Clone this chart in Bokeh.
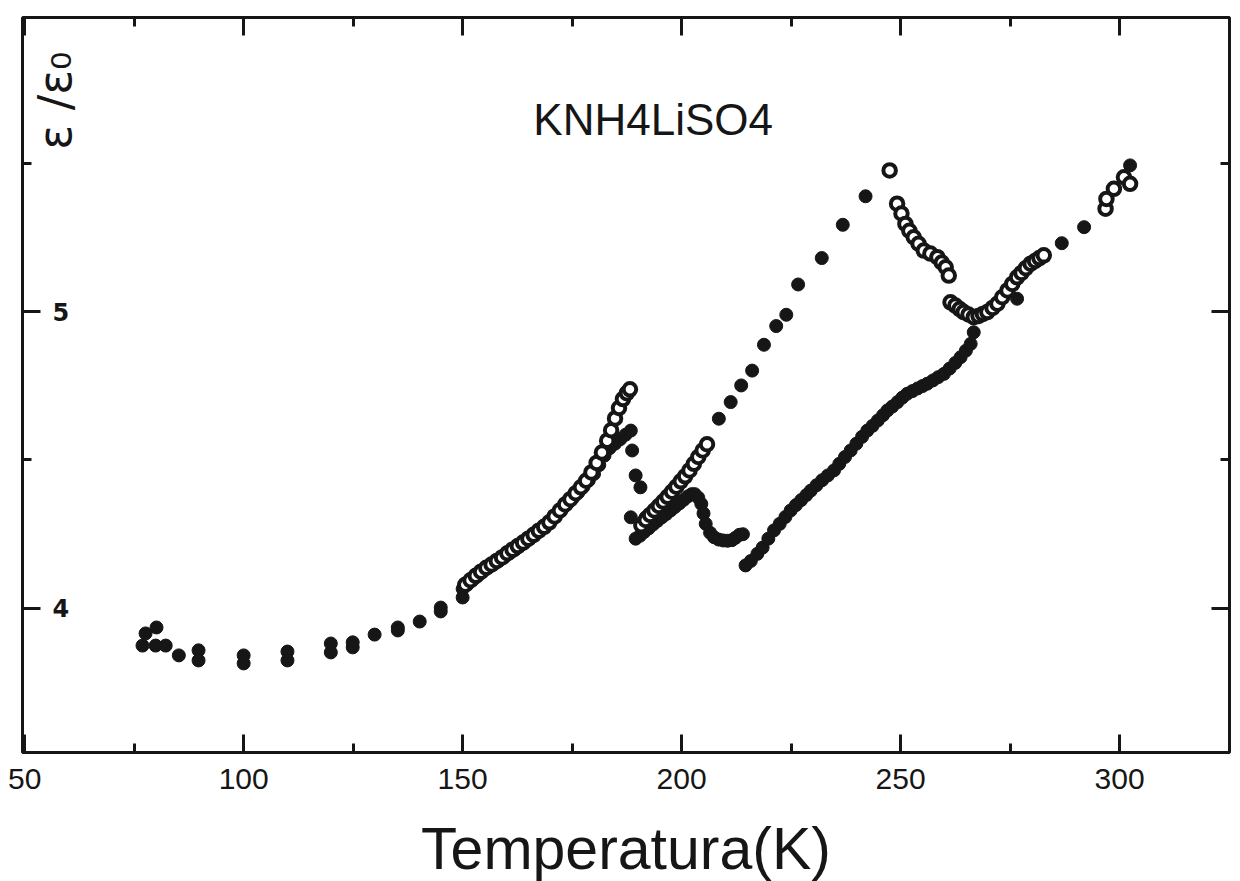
from bokeh.plotting import figure
from bokeh.models import FixedTicker, LinearAxis, Label, Range1d
from bokeh.core.properties import value
from bokeh.embed import file_html
from bokeh.resources import INLINE

# ---------------- data ----------------
# filled circles
solid_T = [76.9, 77.6, 79.9, 80.1, 82.2, 85.2, 89.7, 89.7, 100.0, 100.0, 110.0, 110.0,
           119.9, 119.9, 124.9, 124.9, 129.9, 135.2, 135.2, 140.2, 145.0, 145.0, 150.0,
           # lower branch 150-188
           150.0, 151.2, 152.4, 153.6, 154.8, 156.0, 157.2, 158.4, 159.6, 160.8, 162.0,
           163.2, 164.4, 165.6, 166.8, 168.0, 169.2, 170.4, 171.6, 172.8, 174.0, 175.2,
           176.4, 177.6, 178.8, 180.0, 181.2, 182.4, 183.6, 184.8, 186.0, 187.2, 188.4,
           # drop after 188
           188.7, 189.5, 190.6, 188.4, 191.8,
           # branch 189-214
           189.5, 190.5, 191.5, 192.5, 193.5, 194.5, 195.5, 196.5, 197.5, 198.5, 199.5,
           200.5, 201.5, 202.3, 203.0, 203.8, 204.5, 205.0, 205.5, 206.5, 207.4, 208.5,
           209.5, 210.5, 211.5, 212.3, 213.2, 214.0,
           # sparse rising dots 208-248
           208.5, 211.2, 213.6, 216.1, 218.8, 221.6, 223.9, 226.6, 232.0, 236.8, 242.0,
           # lower branch 215-267
           214.6, 215.8, 217.3, 218.5, 219.8, 221.1, 222.4, 223.7, 224.9, 226.1, 227.3,
           228.5, 229.5, 230.8, 232.1, 233.4, 234.8, 236.0, 237.3, 238.6, 239.9, 241.2,
           242.4, 243.6, 244.8, 246.0, 247.0, 248.1, 249.3, 250.4, 251.5, 252.7, 253.9,
           255.0, 256.1, 257.4, 258.6, 259.9, 261.2, 262.5, 263.7, 264.9, 266.0, 266.7,
           # high-T sparse dots
           276.6, 286.8, 291.9, 302.4]
solid_eps = [3.875, 3.916, 3.875, 3.936, 3.875, 3.842, 3.859, 3.825, 3.842, 3.815, 3.855, 3.825,
             3.882, 3.852, 3.886, 3.869, 3.912, 3.936, 3.926, 3.956, 4.003, 3.990, 4.037,
             4.066, 4.082, 4.097, 4.112, 4.127, 4.139, 4.150, 4.162, 4.174, 4.186, 4.198,
             4.212, 4.225, 4.238, 4.252, 4.266, 4.283, 4.300, 4.318, 4.336, 4.354, 4.372,
             4.390, 4.410, 4.431, 4.453, 4.483, 4.515, 4.540, 4.555, 4.570, 4.585, 4.599,
             4.532, 4.448, 4.408, 4.307, 4.307,
             4.235, 4.245, 4.258, 4.270, 4.283, 4.295, 4.307, 4.318, 4.330, 4.342, 4.354,
             4.366, 4.378, 4.385, 4.385, 4.373, 4.352, 4.320, 4.285, 4.255, 4.240, 4.232,
             4.229, 4.228, 4.230, 4.238, 4.248, 4.250,
             4.639, 4.695, 4.751, 4.801, 4.888, 4.951, 4.989, 5.091, 5.180, 5.292, 5.388,
             4.145, 4.160, 4.184, 4.205, 4.235, 4.263, 4.285, 4.308, 4.330, 4.348, 4.365,
             4.382, 4.397, 4.415, 4.432, 4.448, 4.465, 4.487, 4.510, 4.532, 4.555, 4.578,
             4.599, 4.615, 4.633, 4.651, 4.667, 4.680, 4.695, 4.710, 4.723, 4.732, 4.741,
             4.749, 4.757, 4.768, 4.779, 4.790, 4.808, 4.827, 4.846, 4.868, 4.891, 4.930,
             5.043, 5.230, 5.284, 5.492]

# open circles
open_T = [150.6, 151.8, 153.0, 154.2, 155.4, 156.6, 157.8, 159.0, 160.2, 161.4, 162.6,
          163.8, 165.0, 166.2, 167.4, 168.6, 169.8, 171.0, 172.2, 173.4, 174.6, 175.8,
          177.0, 178.2, 179.4, 180.6, 181.8, 183.0, 183.9, 184.8, 185.7, 186.6, 187.5, 188.2,
          190.8, 191.8, 192.8, 193.8, 194.8, 195.8, 196.8, 197.8, 198.8, 199.8, 200.8,
          201.8, 202.8, 203.8, 204.8, 205.8,
          247.5, 249.2, 250.2, 251.1, 252.0, 253.0, 254.1, 255.3, 256.8, 258.4, 259.4,
          260.3, 261.0,
          261.4, 262.5, 263.5, 264.4, 265.5, 266.7, 267.8, 268.8, 269.8, 271.0, 272.1,
          273.2, 274.4, 275.5, 276.6, 277.6, 278.6, 279.7, 280.7, 281.7, 282.7,
          296.8, 297.0, 298.7, 301.0, 302.4]
open_eps = [4.080, 4.095, 4.110, 4.124, 4.137, 4.148, 4.160, 4.172, 4.186, 4.198, 4.210,
            4.222, 4.235, 4.248, 4.262, 4.275, 4.290, 4.310, 4.330, 4.350, 4.368, 4.388,
            4.408, 4.430, 4.458, 4.490, 4.525, 4.565, 4.600, 4.640, 4.675, 4.705, 4.725, 4.738,
            4.280, 4.298, 4.315, 4.330, 4.345, 4.360, 4.376, 4.393, 4.410, 4.428, 4.445,
            4.465, 4.487, 4.510, 4.532, 4.553,
            5.475, 5.363, 5.330, 5.295, 5.272, 5.250, 5.228, 5.205, 5.195, 5.183, 5.165,
            5.149, 5.121,
            5.031, 5.020, 5.008, 4.998, 4.990, 4.981, 4.985, 4.992, 4.998, 5.012, 5.026,
            5.048, 5.071, 5.093, 5.115, 5.130, 5.146, 5.161, 5.170, 5.180, 5.189,
            5.346, 5.379, 5.413, 5.452, 5.430]

x_ticks = [50, 100, 150, 200, 250, 300]
x_minor = [75, 125, 175, 225, 275]
y_ticks = [4, 5]
y_minor = [4.5, 5.5]
y_tick_labels = ["4", "5"]

title_text = "KNH4LiSO4"
x_title = "Temperatura(K)"
y_title = "ε /ε₀"

# ---------------- figure ----------------
INK = "#161616"
p = figure(frame_width=1207, frame_height=735,
           x_range=Range1d(49.5, 325.1), y_range=Range1d(3.515, 5.99),
           output_backend="svg", toolbar_location=None,
           min_border_left=22, min_border_right=11, min_border_top=17, min_border_bottom=129,
           background_fill_color="white", border_fill_color="white")
p.grid.grid_line_color = None
p.outline_line_color = INK
p.outline_line_width = 3

xtk = FixedTicker(ticks=x_ticks, minor_ticks=x_minor)
ytk = FixedTicker(ticks=y_ticks, minor_ticks=y_minor)

def style_axis(ax, show_labels=False):
    ax.axis_line_color = None
    ax.major_tick_in = 18
    ax.major_tick_out = 0
    ax.minor_tick_in = 9
    ax.minor_tick_out = 0
    ax.major_tick_line_width = 3
    ax.minor_tick_line_width = 3
    ax.major_tick_line_color = INK
    ax.minor_tick_line_color = INK
    if not show_labels:
        ax.major_label_text_color = None
        ax.major_label_text_font_size = "1px"
        ax.major_label_standoff = 0

bx = p.xaxis[0]
bx.ticker = xtk
style_axis(bx, True)
bx.major_label_text_font = "Liberation Sans"
bx.major_label_text_font_size = "30px"
bx.major_label_text_color = INK
bx.major_label_standoff = 16
bx.axis_label = x_title
bx.axis_label_text_font = "Liberation Sans"
bx.axis_label_text_font_size = "59px"
bx.axis_label_text_font_style = "normal"
bx.axis_label_text_color = INK
bx.axis_label_standoff = 24

ly = p.yaxis[0]
ly.ticker = ytk
style_axis(ly)

top = LinearAxis(ticker=xtk)
style_axis(top)
p.add_layout(top, "above")
right = LinearAxis(ticker=ytk)
style_axis(right)
p.add_layout(right, "right")

# y tick labels drawn inside the frame
p.text(x=[49.5] * len(y_ticks), y=y_ticks, text=y_tick_labels, x_offset=30,
       text_align="left", text_baseline="middle", text_font=value("DejaVu Sans"),
       text_font_style="bold", text_font_size="24px", text_color=INK)

# data
p.scatter(solid_T, solid_eps, size=13, marker="circle", fill_color=INK, line_color=INK)
p.scatter(open_T, open_eps, size=12.5, marker="circle", fill_color="white",
          line_color=INK, line_width=4)

# title and y label
p.add_layout(Label(x=193.5, y=5.645, text=title_text, text_align="center",
                   text_baseline="middle", text_font="Liberation Sans",
                   text_font_size="44px", text_color=INK))
p.add_layout(Label(x=57.0, y=5.71, text=y_title, angle=1.5708, text_align="center",
                   text_baseline="middle", text_font="DejaVu Sans",
                   text_font_size="46px", text_color=INK))

open("out.html", "w").write(file_html(p, INLINE))
